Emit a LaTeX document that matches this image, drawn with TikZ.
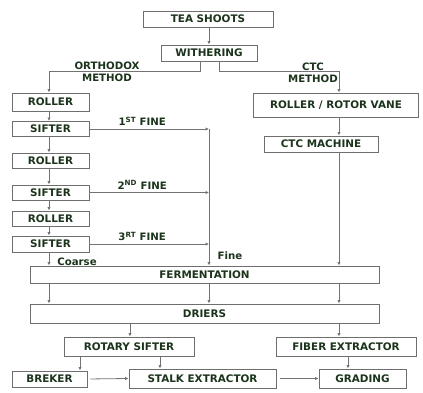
\documentclass[tikz,border=0pt]{standalone}
\usepackage{fontspec}
\setmainfont{DejaVu Sans}
\usepackage{tikz}
\usetikzlibrary{positioning,arrows.meta,calc}
\definecolor{teaText}{RGB}{28,52,28}
\definecolor{boxGray}{RGB}{110,110,110}
\definecolor{lineGray}{RGB}{115,115,115}

\begin{document}
\begin{tikzpicture}[x=1pt, y=-1pt,
  stepbox/.style={draw=boxGray, line width=0.9pt, fill=white, inner sep=0pt, font=\fontsize{10.4}{11}\selectfont\bfseries, text=teaText},
  labeltext/.style={font=\fontsize{10.2}{11.5}\selectfont\bfseries, text=teaText, inner sep=0pt, align=center},
  arrowstyle/.style={-{Latex[length=3.5pt,width=3.4pt]}, draw=lineGray, line width=0.8pt},
]
\useasboundingbox (0,0) rectangle (423,393);

% ===================================================================
% TOP: tea shoots and withering
% ===================================================================
\node[stepbox, minimum width=130pt, minimum height=16pt] (Tea) at (208,19) {TEA SHOOTS};
\node[stepbox, minimum width=96pt, minimum height=16pt] (Wither) at (209,53) {WITHERING};
\draw[arrowstyle] (Tea.south -| Wither) -- (Wither.north);

% ===================================================================
% LEFT: orthodox method
% ===================================================================
\node[stepbox, minimum width=77pt, minimum height=18pt] (R1) at (50.5,102) {ROLLER};
\node[stepbox, minimum width=77pt, minimum height=15pt] (S1) at (50.5,129) {SIFTER};
\node[stepbox, minimum width=77pt, minimum height=15pt] (R2) at (50.5,160.5) {ROLLER};
\node[stepbox, minimum width=77pt, minimum height=15pt] (S2) at (50.5,192.5) {SIFTER};
\node[stepbox, minimum width=77pt, minimum height=15pt] (R3) at (50.5,218.5) {ROLLER};
\node[stepbox, minimum width=77pt, minimum height=16pt] (S3) at (50.5,244) {SIFTER};

\coordinate (OrthoTop) at (200,71);
\draw[arrowstyle] (Wither.south -| OrthoTop) -- (OrthoTop) -| (R1.north -| 49,0);
\node[labeltext] (OrthoLbl) at (107,72) {ORTHODOX\\METHOD};

\draw[arrowstyle] (R1.south -| 49,0) -- (S1.north -| 49,0);
\draw[arrowstyle] (S1.south -| 49,0) -- (R2.north -| 49,0);
\draw[arrowstyle] (R2.south -| 49,0) -- (S2.north -| 49,0);
\draw[arrowstyle] (S2.south -| 49,0) -- (R3.north -| 49,0);
\draw[arrowstyle] (R3.south -| 49,0) -- (S3.north -| 49,0);

% ===================================================================
% RIGHT: CTC method
% ===================================================================
\node[stepbox, minimum width=165pt, minimum height=24pt] (Rotor) at (336,105) {ROLLER / ROTOR VANE};
\node[stepbox, minimum width=114pt, minimum height=16pt] (Ctc) at (321,144) {CTC MACHINE};

\coordinate (CtcTop) at (219,71);
\draw[arrowstyle] (Wither.south -| CtcTop) -- (CtcTop) -| (Rotor.north -| 339,0);
\node[labeltext] (CtcLbl) at (313,73) {CTC\\METHOD};
\draw[arrowstyle] (Rotor.south -| 339,0) -- (Ctc.north -| 339,0);

% ===================================================================
% FINE bus
% ===================================================================
\foreach \s/\t in {1/1\textsuperscript{ST},2/2\textsuperscript{ND},3/3\textsuperscript{RT}} {
  \coordinate (F\s) at (209,0 |- S\s.east);
  \draw[arrowstyle] (S\s.east) -- (F\s);
  \node[labeltext, anchor=south] (FineLbl\s) at ($(S\s.east)!0.5!(F\s) + (-7,-3)$) {\t\ FINE};
}

% ===================================================================
% Fermentation and driers
% ===================================================================
\node[stepbox, minimum width=349pt, minimum height=17pt] (Ferm) at (204.5,274.5) {FERMENTATION};
\node[stepbox, minimum width=349pt, minimum height=19pt] (Drier) at (204.5,313.5) {DRIERS};

\draw[arrowstyle] (F1) -- (Ferm.north -| F1);
\node[labeltext] (FineLbl) at (230,256) {Fine};
\draw[arrowstyle] (S3.south -| 49,0) -- (Ferm.north -| 49,0);
\node[labeltext] (CoarseLbl) at (77,262) {Coarse};
\draw[arrowstyle] (Ctc.south -| 339,0) -- (Ferm.north -| 339,0);

\foreach \x in {49,209,339} {
  \draw[arrowstyle] (Ferm.south -| \x,0) -- (Drier.north -| \x,0);
}

% ===================================================================
% BOTTOM: sifting, extraction, grading
% ===================================================================
\node[stepbox, minimum width=130pt, minimum height=19pt] (Rotary) at (129,346.5) {ROTARY SIFTER};
\node[stepbox, minimum width=140pt, minimum height=19pt] (Fiber) at (346,346.5) {FIBER EXTRACTOR};
\node[stepbox, minimum width=75pt, minimum height=16pt] (Breker) at (49.5,379) {BREKER};
\node[stepbox, minimum width=147pt, minimum height=19pt] (Stalk) at (202.5,378.5) {STALK EXTRACTOR};
\node[stepbox, minimum width=87pt, minimum height=19pt] (Grade) at (362.5,378.5) {GRADING};

\draw[arrowstyle] (Drier.south -| 130,0) -- (Rotary.north -| 130,0);
\draw[arrowstyle] (Drier.south -| 339,0) -- (Fiber.north -| 339,0);
\draw[arrowstyle] (Rotary.south -| 80,0) -- (Breker.north -| 80,0);
\draw[arrowstyle] (Rotary.south -| 160,0) -- (Stalk.north -| 160,0);
\draw[arrowstyle] (Fiber.south -| 348,0) -- (Grade.north -| 348,0);
\draw[arrowstyle, shorten <=3pt] (Breker.east) -- (Stalk.west);
\draw[arrowstyle, shorten <=4pt] (Stalk.east) -- (Grade.west);

\end{tikzpicture}
\end{document}
